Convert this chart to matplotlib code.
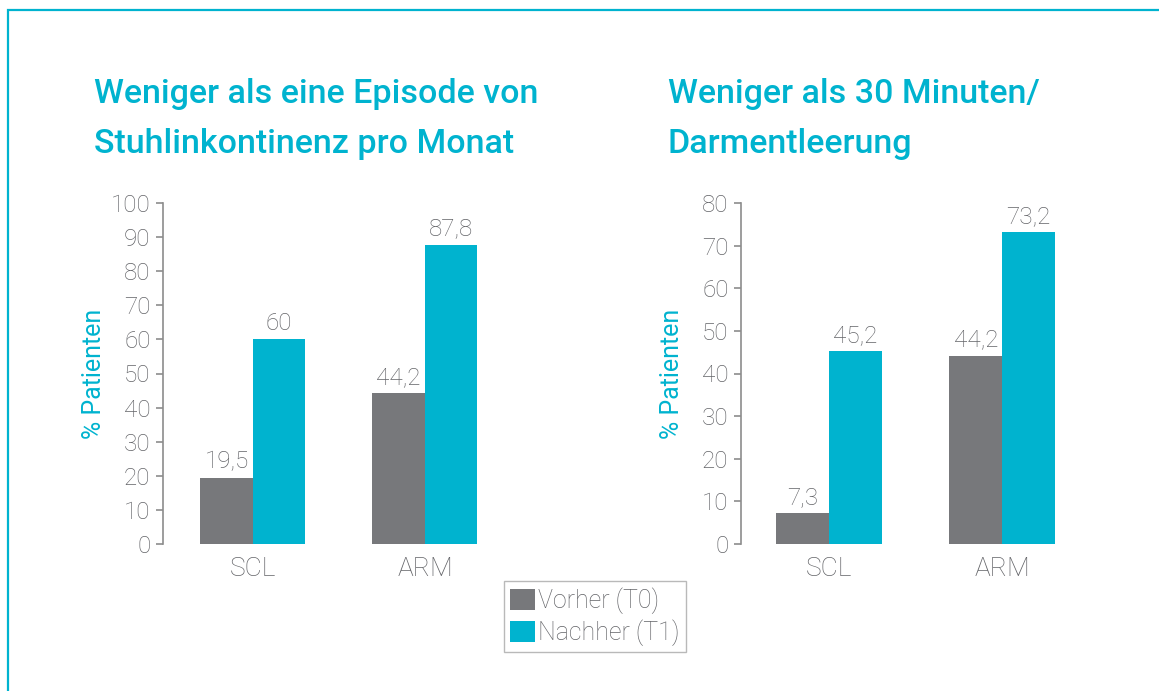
import numpy as np
import matplotlib
matplotlib.use('Agg')
import matplotlib.pyplot as plt
from matplotlib.patches import Rectangle

groups = ['SCL', 'ARM']
series = ['Vorher (T0)', 'Nachher (T1)']
stuhl_vorher = [19.5, 44.2]
stuhl_nachher = [60, 87.8]
darm_vorher = [7.3, 44.2]
darm_nachher = [45.2, 73.2]
titles = ['Weniger als eine Episode von\nStuhlinkontinenz pro Monat',
          'Weniger als 30 Minuten/\nDarmentleerung']
ymax = [100, 80]
ylabel = '% Patienten'

GRAY = '#77787b'
CYAN = '#00b3cf'
TXT = '#636468'
AXC = '#8c8c8c'

plt.rcParams['font.family'] = ['Roboto', 'Liberation Sans', 'DejaVu Sans']
plt.rcParams['font.weight'] = 'light'

W, H = 1159, 691
fig = plt.figure(figsize=(W / 100, H / 100), dpi=100)


def px(x0, y0, x1, y1):
    # pixel box (top-left origin) -> figure fraction
    return [x0 / W, 1 - y1 / H, (x1 - x0) / W, (y1 - y0) / H]


def fmt(v):
    return f'{v:g}'.replace('.', ',')


data = [(stuhl_vorher, stuhl_nachher), (darm_vorher, darm_nachher)]
spine_x = [163, 741]
title_x = [94, 668]
unit = [172, 173]
x0s = [-0.523, -0.51]
bw = 0.305
x = np.arange(len(groups))

for i, (vorher, nachher) in enumerate(data):
    ax = fig.add_axes(px(spine_x[i], 203, spine_x[i] + 331, 544))
    b1 = ax.bar(x - bw / 2, vorher, bw, color=GRAY, label=series[0])
    b2 = ax.bar(x + bw / 2, nachher, bw, color=CYAN, label=series[1])
    ax.bar_label(b1, labels=[fmt(v) for v in vorher], padding=3, fontsize=17.5, color=TXT)
    ax.bar_label(b2, labels=[fmt(v) for v in nachher], padding=3, fontsize=17.5, color=TXT)
    ax.set_xlim(x0s[i], x0s[i] + 331 / unit[i])
    ax.set_ylim(0, ymax[i])
    ax.set_yticks(range(0, ymax[i] + 1, 10))
    ax.set_xticks(x)
    ax.set_xticklabels(groups)
    for s in ['top', 'right', 'bottom']:
        ax.spines[s].set_visible(False)
    ax.spines['left'].set_color(AXC)
    ax.spines['left'].set_linewidth(1.2)
    ax.tick_params(axis='y', length=5, width=1.2, color=AXC, labelsize=17.5,
                   labelcolor=TXT, pad=4)
    ax.tick_params(axis='x', length=0, labelsize=19, labelcolor=TXT, pad=9)
    ax.set_ylabel(ylabel, fontsize=18, color=CYAN)
    ax.yaxis.set_label_coords(-0.172, 0.5)
    fig.text(title_x[i] / W, 1 - 78 / H, titles[i], fontsize=24.5, fontweight='medium',
             color=CYAN, va='top', ha='left', linespacing=1.72)

leg = fig.legend(handles=[b1, b2], labels=series, loc='upper left',
                 bbox_to_anchor=(504 / W, 1 - 581 / H), bbox_transform=fig.transFigure,
                 fontsize=18, labelcolor=TXT, frameon=True, fancybox=False,
                 edgecolor='#a8a8a8', borderpad=0.25, handlelength=1.0,
                 handleheight=0.95, handletextpad=0.12, labelspacing=0.22,
                 borderaxespad=0)
leg.get_frame().set_linewidth(1.0)

fig.patches.append(Rectangle((8 / W, -0.05), 1.1, 1 - 10 / H + 0.05,
                             transform=fig.transFigure, fill=False,
                             ec=CYAN, lw=1.6))

fig.savefig('out.png', dpi=100)
